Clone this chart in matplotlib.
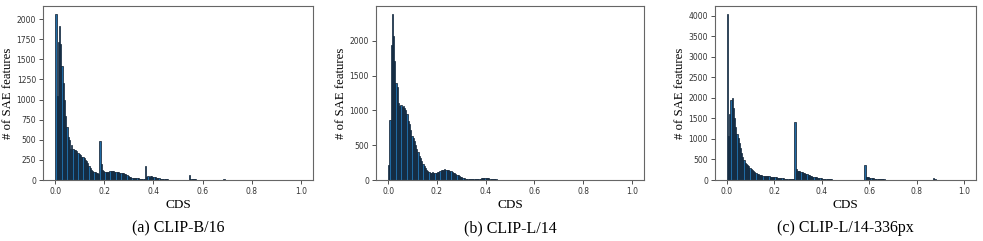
"""Histograms of CDS for SAE features across three CLIP backbones."""

import matplotlib.pyplot as plt
from matplotlib.ticker import MultipleLocator

BIN_WIDTH = 0.005

# counts per 0.005-wide bin starting at CDS = 0.0
counts_b16 = [
    2060, 1050, 1720, 1910, 1690, 1420, 1200, 1000, 800, 660,
    540, 500, 390, 430, 390, 370, 370, 360, 340, 320,
    310, 290, 280, 270, 250, 230, 210, 180, 150, 130,
    115, 100, 95, 90, 85, 80, 490, 200, 130, 110,
    100, 100, 95, 100, 110, 115, 115, 110, 105, 100,
    100, 95, 90, 90, 85, 85, 80, 70, 60, 50,
    40, 35, 30, 28, 25, 22, 20, 20, 18, 18,
    18, 15, 15, 175, 40, 45, 40, 45, 50, 40,
    35, 35, 30, 25, 20, 18, 15, 12, 10, 10,
    8, 7, 6, 5, 5, 5, 4, 4, 4, 4,
    4, 3, 3, 3, 3, 3, 3, 3, 3, 60,
    15, 12, 10, 8, 7, 6, 5, 5, 4, 4,
    4, 3, 3, 3, 2, 2, 2, 2, 2, 2,
    2, 2, 1, 1, 1, 1, 1, 15, 2, 1,
    1, 1, 1, 1, 1, 0, 0, 0, 0, 0,
]

counts_l14 = [
    210, 860, 1940, 2380, 2070, 1710, 1400, 1330, 1100, 1060,
    1070, 1050, 1060, 1040, 1000, 950, 850, 800, 720, 630,
    600, 560, 500, 450, 400, 350, 310, 270, 230, 200,
    175, 150, 130, 115, 105, 100, 110, 100, 95, 105,
    110, 120, 130, 140, 145, 150, 155, 150, 145, 140,
    130, 125, 115, 105, 95, 85, 75, 65, 55, 45,
    38, 30, 25, 20, 18, 15, 12, 10, 10, 10,
    10, 12, 14, 16, 18, 20, 22, 24, 25, 25,
    25, 25, 22, 20, 18, 15, 12, 10, 8, 7,
    6, 5, 5, 4, 4, 3, 3, 3, 3, 3,
    3, 2, 2, 2, 2, 2, 2, 2, 2, 2,
    2, 2, 2, 2, 2, 2, 2, 2, 2, 1,
]

counts_l14_336 = [
    4040, 1080, 1600, 1960, 2000, 1750, 1500, 1300, 1130, 1020,
    900, 770, 650, 560, 480, 420, 400, 370, 330, 300,
    270, 240, 210, 190, 170, 150, 140, 130, 120, 110,
    105, 100, 100, 95, 95, 90, 85, 80, 75, 75,
    80, 70, 60, 55, 50, 45, 40, 38, 35, 30,
    30, 28, 25, 22, 20, 18, 15, 1410, 270, 230,
    220, 210, 200, 190, 175, 160, 150, 140, 125, 115,
    105, 95, 85, 78, 70, 62, 55, 50, 45, 40,
    35, 32, 28, 25, 22, 20, 18, 16, 14, 12,
    11, 10, 9, 9, 8, 8, 8, 7, 7, 7,
    7, 6, 6, 6, 6, 6, 6, 5, 5, 5,
    5, 5, 5, 5, 5, 5, 360, 80, 70, 65,
    60, 55, 50, 40, 35, 30, 28, 25, 22, 20,
    18, 15, 14, 12, 10, 9, 8, 8, 7, 7,
    6, 6, 5, 5, 5, 4, 4, 4, 4, 4,
    4, 3, 3, 3, 3, 3, 3, 3, 3, 3,
    3, 3, 3, 3, 3, 3, 3, 3, 3, 3,
    3, 3, 3, 3, 50, 15, 6, 5, 5, 5,
    5, 5, 4, 4, 4, 4, 3, 3, 3, 3,
    2, 2, 2, 2, 2, 2, 1, 1, 1, 1,
]

captions = ["(a) CLIP-B/16", "(b) CLIP-L/14", "(c) CLIP-L/14-336px"]
panels = [counts_b16, counts_l14, counts_l14_336]
y_steps = [250, 500, 500]

# axes boxes in pixels: left, right, top, bottom
boxes = [(43, 313, 6, 180), (376, 644, 6, 180), (715, 976, 6, 180)]

W, H = 983, 241


def main() -> None:
    fig = plt.figure(figsize=(W / 100, H / 100), dpi=100)
    serif = "Liberation Serif"

    for counts, caption, step, (l, r, t, b) in zip(panels, captions, y_steps, boxes):
        ax = fig.add_axes([l / W, (H - b) / H, (r - l) / W, (b - t) / H])
        edges = [i * BIN_WIDTH for i in range(len(counts))]
        ax.bar(edges, counts, width=BIN_WIDTH, align="edge",
               color="#1f6aa4", edgecolor="#0d1a2a", linewidth=0.5)
        ax.set_xlim(-0.05, 1.05)
        ax.set_ylim(0, max(counts) * 1.05)
        ax.xaxis.set_major_locator(MultipleLocator(0.2))
        ax.yaxis.set_major_locator(MultipleLocator(step))
        ax.tick_params(labelsize=5.5, colors="#333333", length=3, width=0.6, pad=2)
        for spine in ax.spines.values():
            spine.set_color("#666666")
            spine.set_linewidth(0.8)
        ax.set_xlabel("CDS", fontfamily=serif, fontsize=9.5, labelpad=2)
        ax.set_ylabel("# of SAE features", fontfamily=serif, fontsize=9.2, labelpad=2)
        fig.text((l + r) / 2 / W, (H - 228) / H, caption, ha="center", va="center",
                 fontfamily=serif, fontsize=11.5)

    fig.savefig("out.png", dpi=100)
    plt.close(fig)


if __name__ == "__main__":
    main()
